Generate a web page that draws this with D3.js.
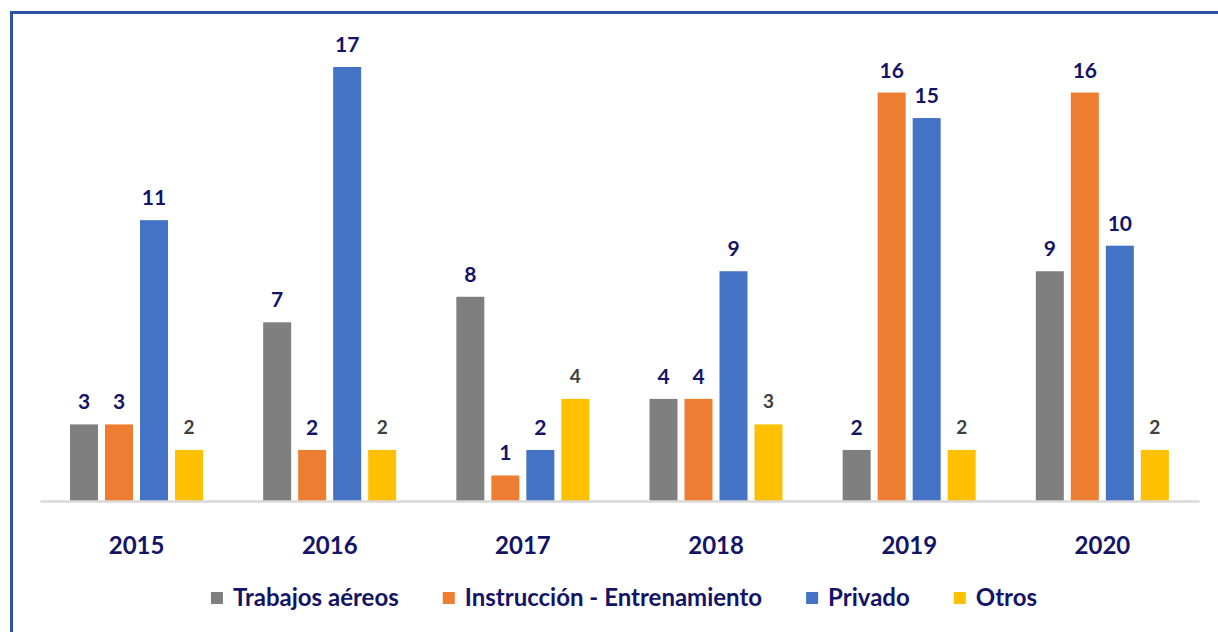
<!DOCTYPE html>
<html>
<head>
<meta charset="utf-8">
<script src="https://cdn.jsdelivr.net/npm/d3@7"></script>
<style>
  body { margin: 0; background: #fff; }
  svg { display: block; font-family: Lato, "Open Sans", sans-serif; }
</style>
</head>
<body>
<div id="chart"></div>
<script>
const years = ["2015", "2016", "2017", "2018", "2019", "2020"];
const seriesNames = ["Trabajos aéreos", "Instrucción - Entrenamiento", "Privado", "Otros"];
const trabajos = [3, 7, 8, 4, 2, 9];
const instruccion = [3, 2, 1, 4, 16, 16];
const privado = [11, 17, 2, 9, 15, 10];
const otros = [2, 2, 4, 3, 2, 2];
const colors = ["#7f7f7f", "#ed7d31", "#4472c4", "#ffc000"];

const allSeries = [trabajos, instruccion, privado, otros];

let width = 1218, height = 632;
let svg = d3.select("#chart").append("svg")
  .attr("width", width)
  .attr("height", height);

// frame
svg.append("path")
  .attr("d", "M11.5,632 L11.5,12.5 L1218,12.5")
  .attr("fill", "none")
  .attr("stroke", "#2f52a6")
  .attr("stroke-width", 3);

let x0 = d3.scaleBand().domain(years).range([40, 1199]);
let x1 = d3.scaleBand().domain(d3.range(4)).range([30, 163]).paddingInner(0.2);
let y = d3.scaleLinear().domain([0, 17]).range([501, 67]);

let rows = [];
years.forEach((yr, i) => {
  allSeries.forEach((s, k) => rows.push({ year: yr, k: k, value: s[i] }));
});

svg.selectAll("rect.bar")
  .data(rows)
  .enter().append("rect")
    .attr("class", "bar")
    .attr("x", d => x0(d.year) + x1(d.k))
    .attr("y", d => y(d.value))
    .attr("width", x1.bandwidth())
    .attr("height", d => y(0) - y(d.value))
    .attr("fill", d => colors[d.k]);

svg.selectAll("text.val")
  .data(rows)
  .enter().append("text")
    .attr("class", "val")
    .attr("x", d => x0(d.year) + x1(d.k) + x1.bandwidth() / 2)
    .attr("y", d => y(d.value) - (d.k === 3 ? 16 : 15))
    .attr("text-anchor", "middle")
    .attr("font-weight", "bold")
    .attr("font-size", d => d.k === 3 ? 19 : 21)
    .attr("fill", d => d.k === 3 ? "#404040" : "#141466")
    .text(d => d.value);

// axis
let axis = svg.append("g")
  .attr("transform", "translate(0," + y(0) + ")")
  .call(d3.axisBottom(x0).tickSize(0).tickPadding(36));
axis.select(".domain").attr("stroke", "#d9d9d9").attr("stroke-width", 2.5);
axis.selectAll("text")
  .attr("font-family", "Lato, sans-serif")
  .attr("font-size", 24)
  .attr("font-weight", "bold")
  .attr("fill", "#141466");

// legend
let legend = svg.append("g").attr("transform", "translate(0,598)");
let items = legend.selectAll("g")
  .data(seriesNames)
  .enter().append("g");
items.append("rect")
  .attr("y", -6)
  .attr("width", 12)
  .attr("height", 12)
  .attr("fill", (d, i) => colors[i]);
items.append("text")
  .attr("x", 22)
  .attr("dy", "0.35em")
  .attr("font-size", 24)
  .attr("font-weight", "bold")
  .attr("fill", "#141466")
  .text(d => d);

let gap = 44, widths = [];
items.each(function () { widths.push(this.getBBox().width); });
let total = d3.sum(widths) + gap * (widths.length - 1);
let pos = 624 - total / 2;
items.attr("transform", (d, i) => {
  let t = "translate(" + pos + ",0)";
  pos += widths[i] + gap;
  return t;
});
</script>
</body>
</html>
